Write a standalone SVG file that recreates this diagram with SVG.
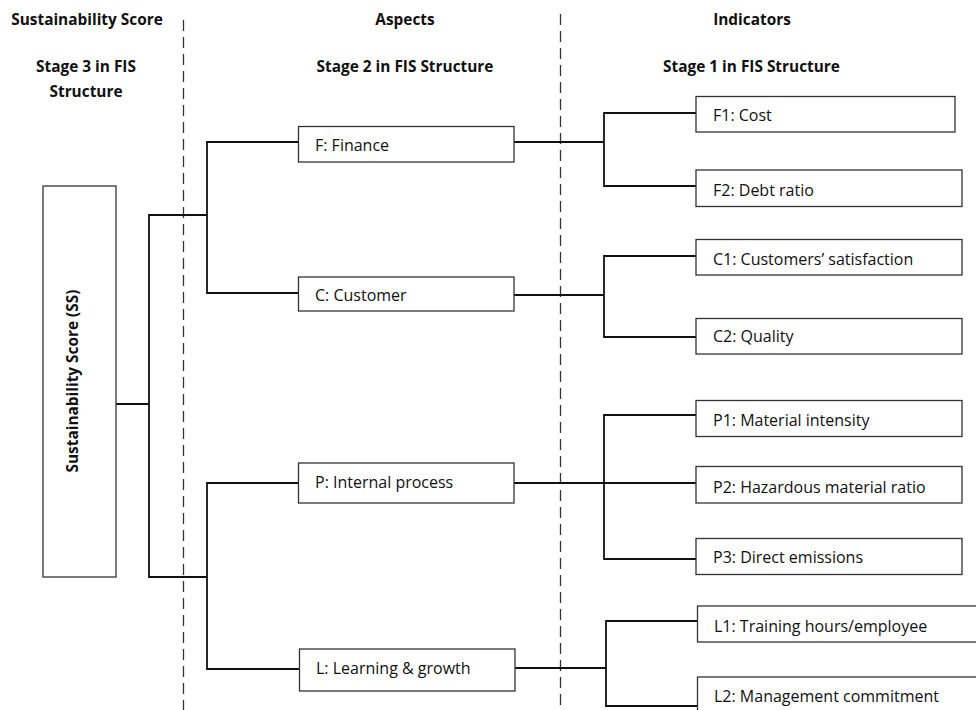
<svg xmlns="http://www.w3.org/2000/svg" width="976" height="710" viewBox="0 0 976 710">
<style>
.box{fill:#fff;stroke:#333;stroke-width:1.3}
.lbl{font-family:"Open Sans","Liberation Sans",sans-serif;font-size:16px;fill:#111}
.hdr{font-family:"Open Sans","Liberation Sans",sans-serif;font-size:15.4px;font-weight:bold;fill:#111;text-anchor:middle}
.con{fill:none;stroke:#111;stroke-width:1.8}
.dash{stroke:#333;stroke-width:1.3;stroke-dasharray:11 6}
</style>
<rect width="976" height="710" fill="#fff"/>
<g id="headers">
<text class="hdr" x="87" y="25">Sustainability Score</text>
<text class="hdr" x="86" y="72">Stage 3 in FIS</text>
<text class="hdr" x="86" y="97">Structure</text>
<text class="hdr" x="405" y="25">Aspects</text>
<text class="hdr" x="405" y="72">Stage 2 in FIS Structure</text>
<text class="hdr" x="752" y="25">Indicators</text>
<text class="hdr" x="751.5" y="72">Stage 1 in FIS Structure</text>
</g>
<g id="dividers">
<line class="dash" x1="183.5" y1="20" x2="183.5" y2="710"/>
<line class="dash" x1="560.5" y1="14" x2="560.5" y2="710"/>
</g>
<g id="connectors">
<polyline class="con" points="116,404 149,404"/>
<polyline class="con" points="207,215 149,215 149,577 207,577"/>
<polyline class="con" points="298,142 207,142 207,293 298,293"/>
<polyline class="con" points="298,483 207,483 207,669 299,669"/>
<polyline class="con" points="514,142 604,142"/>
<polyline class="con" points="696,113 604,113 604,186 696,186"/>
<polyline class="con" points="514,295 604,295"/>
<polyline class="con" points="696,256 604,256 604,337 696,337"/>
<polyline class="con" points="514,483 696,483"/>
<polyline class="con" points="696,415 604,415 604,559 696,559"/>
<polyline class="con" points="515,668 606,668"/>
<polyline class="con" points="697,621 606,621 606,706 697,706"/>
</g>
<g id="SS">
<rect class="box" x="43" y="186" width="73" height="391"/>
<text class="hdr" transform="translate(78,381) rotate(-90)">Sustainability Score (SS)</text>
</g>
<g id="F">
<rect class="box" x="298.5" y="126.5" width="215.5" height="35.5"/>
<text class="lbl" x="315" y="151">F: Finance</text>
</g>
<g id="C">
<rect class="box" x="298.5" y="277" width="215.5" height="34"/>
<text class="lbl" x="315" y="301">C: Customer</text>
</g>
<g id="P">
<rect class="box" x="298.5" y="463" width="215.5" height="40"/>
<text class="lbl" x="315" y="488">P: Internal process</text>
</g>
<g id="L">
<rect class="box" x="299.5" y="649" width="215.5" height="42"/>
<text class="lbl" x="316" y="674">L: Learning &amp; growth</text>
</g>
<g id="F1">
<rect class="box" x="696" y="96.5" width="259" height="35.5"/>
<text class="lbl" x="713" y="121">F1: Cost</text>
</g>
<g id="F2">
<rect class="box" x="696" y="170" width="266" height="36.5"/>
<text class="lbl" x="713" y="196">F2: Debt ratio</text>
</g>
<g id="C1">
<rect class="box" x="696" y="239.5" width="266" height="35.5"/>
<text class="lbl" x="713" y="265">C1: Customers’ satisfaction</text>
</g>
<g id="C2">
<rect class="box" x="696" y="318.5" width="266" height="35.5"/>
<text class="lbl" x="713" y="342">C2: Quality</text>
</g>
<g id="P1">
<rect class="box" x="696" y="400.5" width="266" height="36"/>
<text class="lbl" x="713" y="426">P1: Material intensity</text>
</g>
<g id="P2">
<rect class="box" x="696" y="466.5" width="266" height="36.5"/>
<text class="lbl" x="713" y="493">P2: Hazardous material ratio</text>
</g>
<g id="P3">
<rect class="box" x="696" y="538.5" width="266" height="36"/>
<text class="lbl" x="713" y="563">P3: Direct emissions</text>
</g>
<g id="L1">
<rect class="box" x="697.5" y="606" width="290" height="36"/>
<text class="lbl" x="714" y="632">L1: Training hours/employee</text>
</g>
<g id="L2">
<rect class="box" x="697.5" y="677" width="290" height="50"/>
<text class="lbl" x="714" y="702">L2: Management commitment</text>
</g>
</svg>
